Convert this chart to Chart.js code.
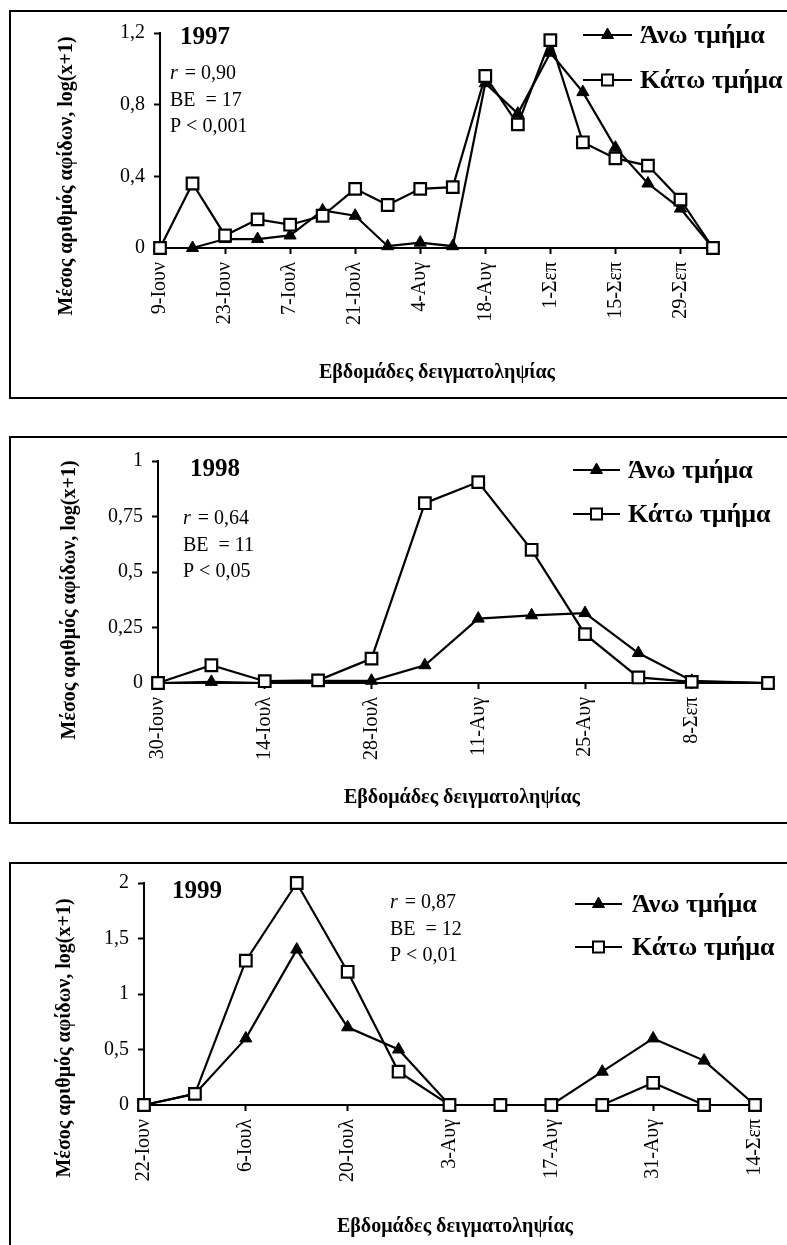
<!DOCTYPE html>
<html>
<head>
<meta charset="utf-8">
<script src="https://cdn.jsdelivr.net/npm/chart.js@4.4.0/dist/chart.umd.min.js"></script>
<style>
    html, body { margin: 0; padding: 0; background: #fff; overflow: hidden; }
    body { width: 787px; height: 1245px; position: relative; }
    canvas { position: absolute; left: 0; }
</style>
</head>
<body>
<canvas id="chart1997" width="787" height="420" style="top:0px"></canvas>
<canvas id="chart1998" width="787" height="410" style="top:420px"></canvas>
<canvas id="chart1999" width="787" height="415" style="top:830px"></canvas>
<script>
const seriesNames = ['Άνω τμήμα', 'Κάτω τμήμα'];
const yAxisTitle = 'Μέσος αριθμός αφίδων, log(x+1)';
const xAxisTitle = 'Εβδομάδες δειγματοληψίας';

// 1997 - days from 9 June
const days1997 = [0, 7, 14, 21, 28, 35, 42, 49, 56, 63, 70, 77, 84, 91, 98, 105, 112, 119];
const ano1997 = [0, 0, 0.05, 0.05, 0.07, 0.21, 0.18, 0.01, 0.03, 0.01, 0.92, 0.75, 1.09, 0.87, 0.56, 0.36, 0.22, 0];
const kato1997 = [0, 0.36, 0.07, 0.16, 0.13, 0.18, 0.33, 0.24, 0.33, 0.34, 0.96, 0.69, 1.16, 0.59, 0.50, 0.46, 0.27, 0];
const tickDays1997 = [0, 14, 28, 42, 56, 70, 84, 98, 112];
const tickLabels1997 = ['9-Ιουν', '23-Ιουν', '7-Ιουλ', '21-Ιουλ', '4-Αυγ', '18-Αυγ', '1-Σεπ', '15-Σεπ', '29-Σεπ'];
const yTicks1997 = [0, 0.4, 0.8, 1.2];
const stats1997 = ['0,90', '17', '0,001'];

// 1998 - days from 30 June
const days1998 = [0, 7, 14, 21, 28, 35, 42, 49, 56, 63, 70, 80];
const ano1998 = [0, 0.005, 0, 0.01, 0.01, 0.08, 0.29, 0.305, 0.315, 0.135, 0.01, 0];
const kato1998 = [0, 0.08, 0.008, 0.012, 0.11, 0.81, 0.905, 0.60, 0.22, 0.025, 0.005, 0];
const tickDays1998 = [0, 14, 28, 42, 56, 70];
const tickLabels1998 = ['30-Ιουν', '14-Ιουλ', '28-Ιουλ', '11-Αυγ', '25-Αυγ', '8-Σεπ'];
const yTicks1998 = [0, 0.25, 0.5, 0.75, 1];
const stats1998 = ['0,64', '11', '0,05'];

// 1999 - days from 22 June
const days1999 = [0, 7, 14, 21, 28, 35, 42, 49, 56, 63, 70, 77, 84];
const ano1999 = [0, 0.1, 0.6, 1.4, 0.7, 0.5, 0, 0, 0, 0.3, 0.6, 0.4, 0];
const kato1999 = [0, 0.1, 1.3, 2.0, 1.2, 0.3, 0, 0, 0, 0, 0.2, 0, 0];
const tickDays1999 = [0, 14, 28, 42, 56, 70, 84];
const tickLabels1999 = ['22-Ιουν', '6-Ιουλ', '20-Ιουλ', '3-Αυγ', '17-Αυγ', '31-Αυγ', '14-Σεπ'];
const yTicks1999 = [0, 0.5, 1, 1.5, 2];
const stats1999 = ['0,87', '12', '0,01'];

const SERIF = '"Liberation Serif", "Times New Roman", serif';
const Y_AXIS_W = 60;
const X_AXIS_H = 100;

function drawMarker(ctx, style, x, y) {
    ctx.save();
    ctx.strokeStyle = '#000';
    ctx.lineWidth = style === 'rect' ? 2 : 1;
    ctx.beginPath();
    if (style === 'rect') {
        ctx.rect(x - 5.5, y - 5.5, 11, 11);
        ctx.fillStyle = '#fff';
        ctx.fill();
        ctx.stroke();
    } else {
        ctx.moveTo(x, y - 7);
        ctx.lineTo(x + 6, y + 3.5);
        ctx.lineTo(x - 6, y + 3.5);
        ctx.closePath();
        ctx.fillStyle = '#000';
        ctx.fill();
        ctx.stroke();
    }
    ctx.restore();
}

const panelDecor = {
    id: 'panelDecor',
    afterDraw(chart, args, opts) {
        const ctx = chart.ctx;
        ctx.save();
        ctx.fillStyle = '#000';
        ctx.strokeStyle = '#000';

        // frame
        ctx.lineWidth = 2;
        ctx.strokeRect(10, opts.frameTop, 900, opts.frameBottom - opts.frameTop);

        // year
        ctx.textBaseline = 'middle';
        ctx.textAlign = 'left';
        ctx.font = `bold 25px ${SERIF}`;
        ctx.fillText(opts.year, opts.yearPos[0], opts.yearPos[1]);

        // statistics
        const [sx, sy] = opts.statsPos;
        ctx.font = `italic 20px ${SERIF}`;
        ctx.fillText('r', sx, sy);
        ctx.font = `20px ${SERIF}`;
        ctx.fillText(' = ' + opts.stats[0], sx + ctx.measureText('r').width + 3, sy);
        ctx.fillText('BE  = ' + opts.stats[1], sx, sy + 26.5);
        ctx.fillText('P < ' + opts.stats[2], sx, sy + 53);

        // legend
        const lg = opts.legend;
        const styles = ['triangle', 'rect'];
        seriesNames.forEach((name, i) => {
            const y = lg.rows[i];
            ctx.lineWidth = 2;
            ctx.beginPath();
            ctx.moveTo(lg.x0, y);
            ctx.lineTo(lg.x1, y);
            ctx.stroke();
            drawMarker(ctx, styles[i], (lg.x0 + lg.x1) / 2, y);
            ctx.font = `bold 26px ${SERIF}`;
            ctx.fillText(name, lg.textX, y + 1);
        });

        // axis titles
        ctx.font = `bold 20px ${SERIF}`;
        ctx.textAlign = 'center';
        ctx.fillText(xAxisTitle, opts.xTitle[0], opts.xTitle[1]);
        ctx.translate(opts.yTitle[0], opts.yTitle[1]);
        ctx.rotate(-Math.PI / 2);
        ctx.fillText(yAxisTitle, 0, 0);
        ctx.restore();
    }
};

function fmtNum(v) {
    return String(v).replace('.', ',');
}

function buildPanel(canvasId, p) {
    const canvas = document.getElementById(canvasId);
    const W = canvas.width;
    const H = canvas.height;
    const area = p.area;

    return new Chart(canvas.getContext('2d'), {
        type: 'line',
        data: {
            datasets: [
                {
                    label: seriesNames[0],
                    data: p.days.map((d, i) => ({ x: d, y: p.ano[i] })),
                    borderColor: '#000',
                    borderWidth: 2.2,
                    pointStyle: 'triangle',
                    pointRadius: 7,
                    pointBackgroundColor: '#000',
                    pointBorderColor: '#000',
                    pointBorderWidth: 1,
                    tension: 0,
                    clip: false,
                    order: 1
                },
                {
                    label: seriesNames[1],
                    data: p.days.map((d, i) => ({ x: d, y: p.kato[i] })),
                    borderColor: '#000',
                    borderWidth: 2.2,
                    pointStyle: 'rect',
                    pointRadius: 8.2,
                    pointBackgroundColor: '#fff',
                    pointBorderColor: '#000',
                    pointBorderWidth: 2.2,
                    tension: 0,
                    clip: false,
                    order: 0
                }
            ]
        },
        options: {
            responsive: false,
            animation: false,
            events: [],
            layout: {
                padding: {
                    left: area.left - Y_AXIS_W,
                    top: area.top,
                    right: W - area.right,
                    bottom: H - area.bottom - X_AXIS_H
                }
            },
            plugins: {
                legend: { display: false },
                tooltip: { enabled: false },
                panelDecor: p.decor
            },
            scales: {
                x: {
                    type: 'linear',
                    min: 0,
                    max: p.days[p.days.length - 1],
                    afterBuildTicks: (scale) => { scale.ticks = p.tickDays.map((v) => ({ value: v })); },
                    afterFit: (scale) => { scale.height = X_AXIS_H; },
                    border: { display: true, color: '#000', width: 2 },
                    grid: { drawOnChartArea: false, drawTicks: true, tickLength: 6, tickColor: '#000', tickWidth: 2 },
                    ticks: {
                        autoSkip: false,
                        maxRotation: 90,
                        minRotation: 90,
                        padding: 8,
                        color: '#000',
                        font: { family: SERIF, size: 20 },
                        callback: (value) => p.tickLabels[p.tickDays.indexOf(value)]
                    }
                },
                y: {
                    type: 'linear',
                    min: 0,
                    max: p.yTicks[p.yTicks.length - 1],
                    afterBuildTicks: (scale) => { scale.ticks = p.yTicks.map((v) => ({ value: v })); },
                    afterFit: (scale) => { scale.width = Y_AXIS_W; },
                    border: { display: true, color: '#000', width: 2 },
                    grid: { drawOnChartArea: false, drawTicks: true, tickLength: 6, tickColor: '#000', tickWidth: 2 },
                    ticks: {
                        padding: 9,
                        color: '#000',
                        font: { family: SERIF, size: 20 },
                        callback: (value) => fmtNum(value)
                    }
                }
            }
        },
        plugins: [panelDecor]
    });
}

buildPanel('chart1997', {
    days: days1997, ano: ano1997, kato: kato1997,
    tickDays: tickDays1997, tickLabels: tickLabels1997, yTicks: yTicks1997,
    area: { left: 160, right: 713, top: 33, bottom: 248 },
    decor: {
        frameTop: 11, frameBottom: 398,
        year: '1997', yearPos: [180, 38],
        stats: stats1997, statsPos: [170, 74],
        legend: { x0: 583, x1: 632, textX: 640, rows: [35, 80] },
        xTitle: [437, 373], yTitle: [67, 176]
    }
});

buildPanel('chart1998', {
    days: days1998, ano: ano1998, kato: kato1998,
    tickDays: tickDays1998, tickLabels: tickLabels1998, yTicks: yTicks1998,
    area: { left: 158, right: 768, top: 41, bottom: 263 },
    decor: {
        frameTop: 17, frameBottom: 403,
        year: '1998', yearPos: [190, 50],
        stats: stats1998, statsPos: [183, 99],
        legend: { x0: 573, x1: 620, textX: 628, rows: [50, 94] },
        xTitle: [462, 378], yTitle: [70, 180]
    }
});

buildPanel('chart1999', {
    days: days1999, ano: ano1999, kato: kato1999,
    tickDays: tickDays1999, tickLabels: tickLabels1999, yTicks: yTicks1999,
    area: { left: 144, right: 768, top: 53, bottom: 275 },
    decor: {
        frameTop: 33, frameBottom: 700,
        year: '1999', yearPos: [172, 62],
        stats: stats1999, statsPos: [390, 73],
        legend: { x0: 575, x1: 622, textX: 632, rows: [74, 117] },
        xTitle: [455, 397], yTitle: [65, 208]
    }
});
</script>
</body>
</html>
